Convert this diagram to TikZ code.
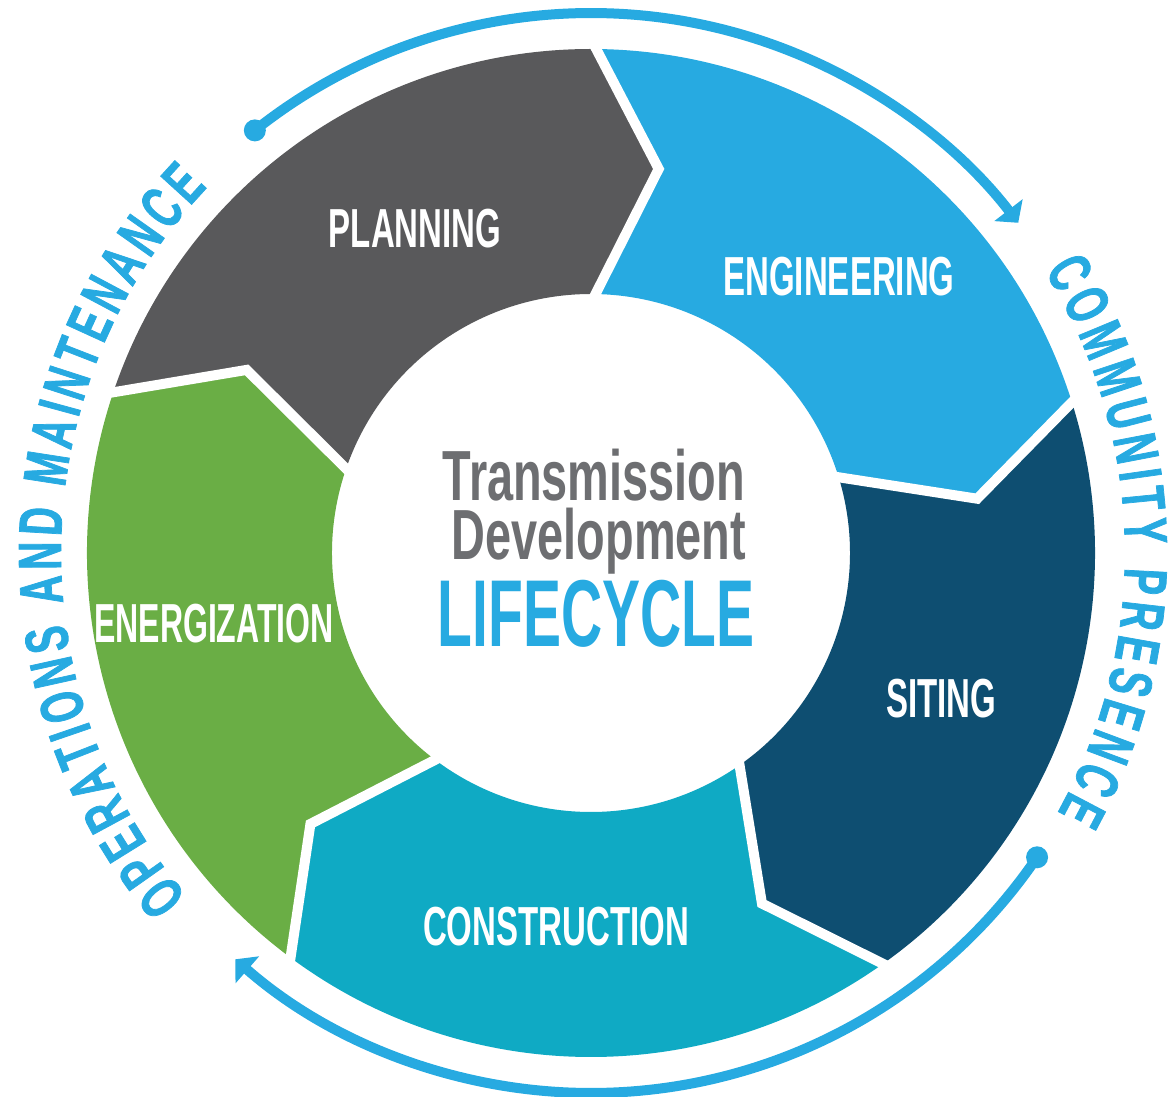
\documentclass[tikz,border=0pt]{standalone}
\usepackage{fontspec}
\usetikzlibrary{arrows.meta,decorations.text}

\newfontfamily\condfont{Liberation Sans}[FakeStretch=0.6]
\newfontfamily\titlefont{Liberation Sans}[FakeStretch=0.66]
\newfontfamily\rimfamily{Liberation Sans}[FakeStretch=0.64,FakeBold=1.2]
\newcommand\stagefont{\condfont\bfseries\fontsize{55}{60}\selectfont}
\newcommand\rimfont{\rimfamily\bfseries\fontsize{61}{61}\selectfont}

\definecolor{planning}{HTML}{59595B}
\definecolor{engineering}{HTML}{27AAE1}
\definecolor{siting}{HTML}{0E4E71}
\definecolor{construction}{HTML}{0FAAC4}
\definecolor{energization}{HTML}{6AAE45}
\definecolor{titlegrey}{HTML}{6D6E71}
\definecolor{ringblue}{HTML}{27AAE1}

\begin{document}
\begin{tikzpicture}[x=1pt,y=1pt,>={Triangle[length=16pt,width=35pt]},
  stage/.style={font=\stagefont,text=white,anchor=base,inner sep=0pt},
  rim/.style={ringblue,line width=10pt},
  rimtext/.style={decorate,decoration={text along path,text={|\rimfont|#1},
    text color=ringblue,text align=fit to path}}]
 \useasboundingbox (-591,-544) rectangle (579,553);

 % the five stages
 \foreach \a/\col in {162/planning,90/engineering,18/siting,-54/construction,-126/energization}{
  \pgfmathsetmacro\b{\a-72}
  \fill[\col] (\a:504) arc[start angle=\a,end angle=\b,radius=504]
   -- ({\b-10}:390) -- (\b:259) arc[start angle=\b,end angle=\a,radius=259]
   -- ({\a-10}:390) -- cycle;
 }
 \foreach \a in {162,90,18,-54,-126}
  \draw[white,line width=10pt,line join=miter] (\a:514) -- ({\a-10}:390) -- (\a:250);

 \node[stage] (planning) at (-176,305) {PLANNING};
 \node[stage] (engineering) at (248,257) {ENGINEERING};
 \node[stage] (siting) at (350,-165) {SITING};
 \node[stage] (construction) at (-35,-392) {CONSTRUCTION};
 \node[stage,xscale=0.97] (energization) at (-377,-90) {ENERGIZATION};

 % title
 \node[font=\titlefont\bfseries\fontsize{71}{71}\selectfont,text=titlegrey,anchor=base,inner sep=0pt] (transmission) at (3,52) {Transmission};
 \node[font=\titlefont\bfseries\fontsize{71}{71}\selectfont,text=titlegrey,anchor=base,inner sep=0pt] (development) at (8,-7) {Development};
 \node[font=\condfont\bfseries\fontsize{95}{95}\selectfont,text=ringblue,anchor=base,inner sep=0pt] (lifecycle) at (5,-94) {LIFECYCLE};

 % outer ring
 \coordinate (cp start) at (128.5:540);
 \coordinate (om start) at (-34.3:540);
 \draw[rim,->] (cp start) arc[start angle=128.5,end angle=37.7,radius=540];
 \fill[ringblue] (cp start) circle[radius=11];
 \draw[rim,->] (om start) arc[start angle=-34.3,end angle=-131.2,radius=540];
 \fill[ringblue] (om start) circle[radius=11];

 \path[rimtext=COMMUNITY PRESENCE] (31.9:534) arc[start angle=31.9,end angle=-29.1,radius=534];
 \path[rimtext=OPERATIONS AND MAINTENANCE] (-139.6:530) arc[start angle=-139.6,end angle=-223.6,radius=530];
\end{tikzpicture}
\end{document}
